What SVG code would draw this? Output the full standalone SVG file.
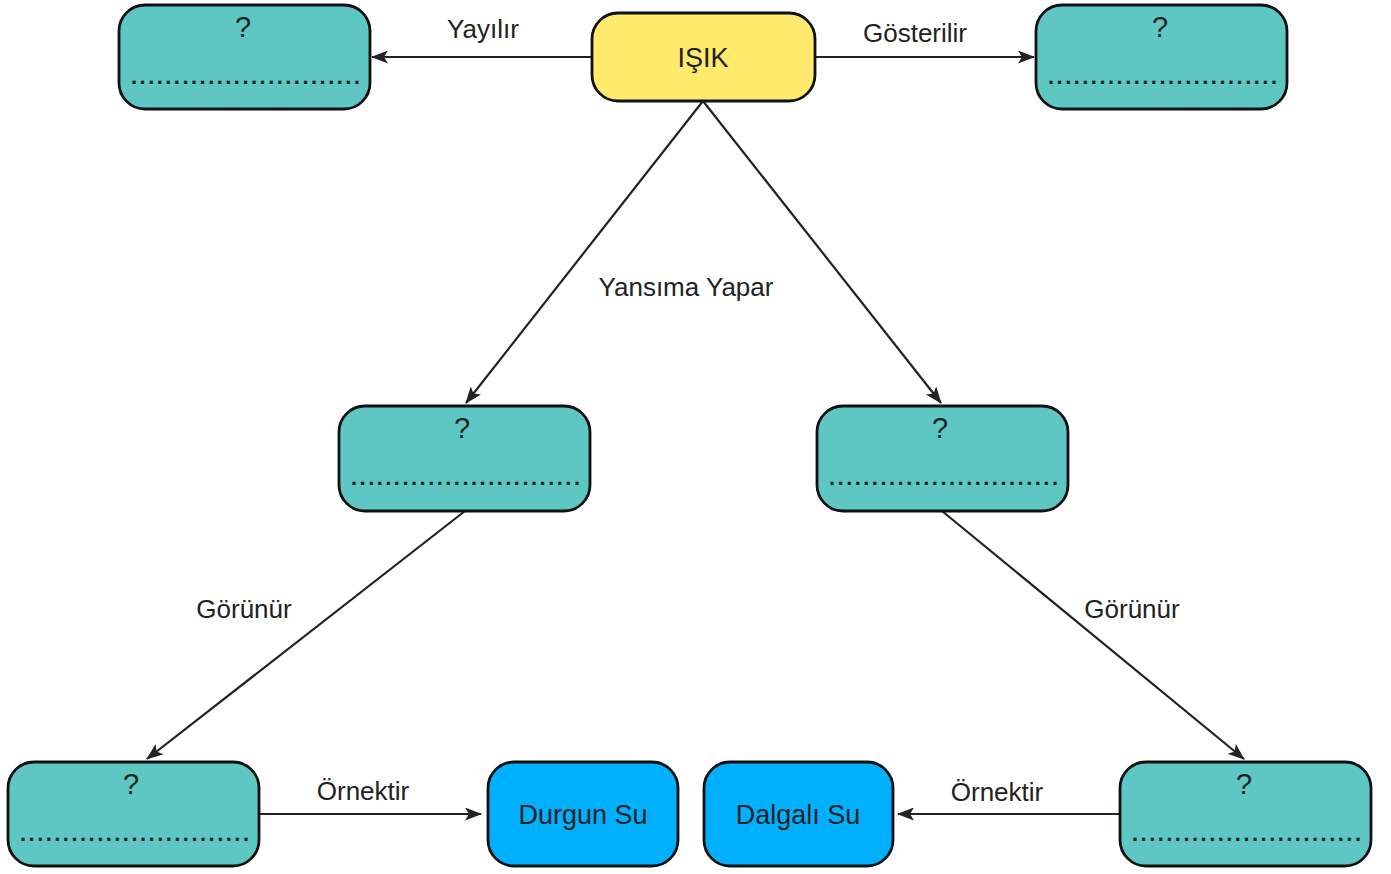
<svg xmlns="http://www.w3.org/2000/svg" width="1391" height="874" viewBox="0 0 1391 874">
<style>
.n{stroke:#111;stroke-width:2.8}
.t{fill:#5ec6c3}
.y{fill:#ffea6e}
.b{fill:#00b0ff}
text{font-family:"Liberation Sans",Arial,sans-serif;fill:#222}
.q{font-size:29px;text-anchor:middle}
.d{font-size:22px;font-weight:bold}
.l{font-size:26px;text-anchor:middle}
.c{font-size:27px;text-anchor:middle}
.e{stroke:#222;stroke-width:2.2;fill:none;marker-end:url(#a)}
</style>
<defs>
<marker id="a" viewBox="0 0 17 13" refX="16" refY="6.5" markerWidth="17" markerHeight="13" markerUnits="userSpaceOnUse" orient="auto">
<path d="M0,0 L17,6.5 L0,13 L4,6.5 Z" fill="#222"/>
</marker>
</defs>
<g id="connectors">
<line class="e" x1="592" y1="57" x2="372" y2="57"/>
<line class="e" x1="815" y1="57" x2="1034" y2="57"/>
<line class="e" x1="703" y1="101" x2="466" y2="403"/>
<line class="e" x1="703" y1="101" x2="941" y2="403"/>
<line class="e" x1="465" y1="511" x2="147" y2="759"/>
<line class="e" x1="942" y1="511" x2="1244" y2="759"/>
<line class="e" x1="259" y1="814" x2="481" y2="814"/>
<line class="e" x1="1120" y1="814" x2="898" y2="814"/>
<text class="l" x="483" y="38">Yayılır</text>
<text class="l" x="915" y="42">Gösterilir</text>
<text class="l" x="686" y="296">Yansıma Yapar</text>
<text class="l" x="244" y="618">Görünür</text>
<text class="l" x="1132" y="618">Görünür</text>
<text class="l" x="363" y="800">Örnektir</text>
<text class="l" x="997" y="801">Örnektir</text>
</g>
<g id="isik"><rect class="n y" x="592" y="13" width="223" height="88" rx="26"/><text class="c" x="703" y="67">IŞIK</text></g>
<g id="n1"><rect class="n t" x="119" y="5" width="251" height="104" rx="26"/><text class="q" x="243" y="37">?</text><text class="d" x="131" y="84" textLength="229" lengthAdjust="spacing">...........................</text></g>
<g id="n2"><rect class="n t" x="1036" y="5" width="251" height="104" rx="26"/><text class="q" x="1160" y="37">?</text><text class="d" x="1048" y="84" textLength="229" lengthAdjust="spacing">...........................</text></g>
<g id="n3"><rect class="n t" x="339" y="406" width="251" height="105" rx="26"/><text class="q" x="462" y="438">?</text><text class="d" x="351" y="485" textLength="229" lengthAdjust="spacing">...........................</text></g>
<g id="n4"><rect class="n t" x="817" y="406" width="251" height="105" rx="26"/><text class="q" x="940" y="438">?</text><text class="d" x="829" y="485" textLength="229" lengthAdjust="spacing">...........................</text></g>
<g id="n5"><rect class="n t" x="8" y="762" width="251" height="104" rx="26"/><text class="q" x="131" y="794">?</text><text class="d" x="20" y="841" textLength="229" lengthAdjust="spacing">...........................</text></g>
<g id="n6"><rect class="n t" x="1120" y="762" width="251" height="104" rx="26"/><text class="q" x="1244" y="794">?</text><text class="d" x="1132" y="841" textLength="229" lengthAdjust="spacing">...........................</text></g>
<g id="durgun"><rect class="n b" x="488" y="762" width="190" height="104" rx="26"/><text class="c" x="583" y="824">Durgun Su</text></g>
<g id="dalgali"><rect class="n b" x="704" y="762" width="189" height="104" rx="26"/><text class="c" x="798" y="824">Dalgalı Su</text></g>
</svg>
